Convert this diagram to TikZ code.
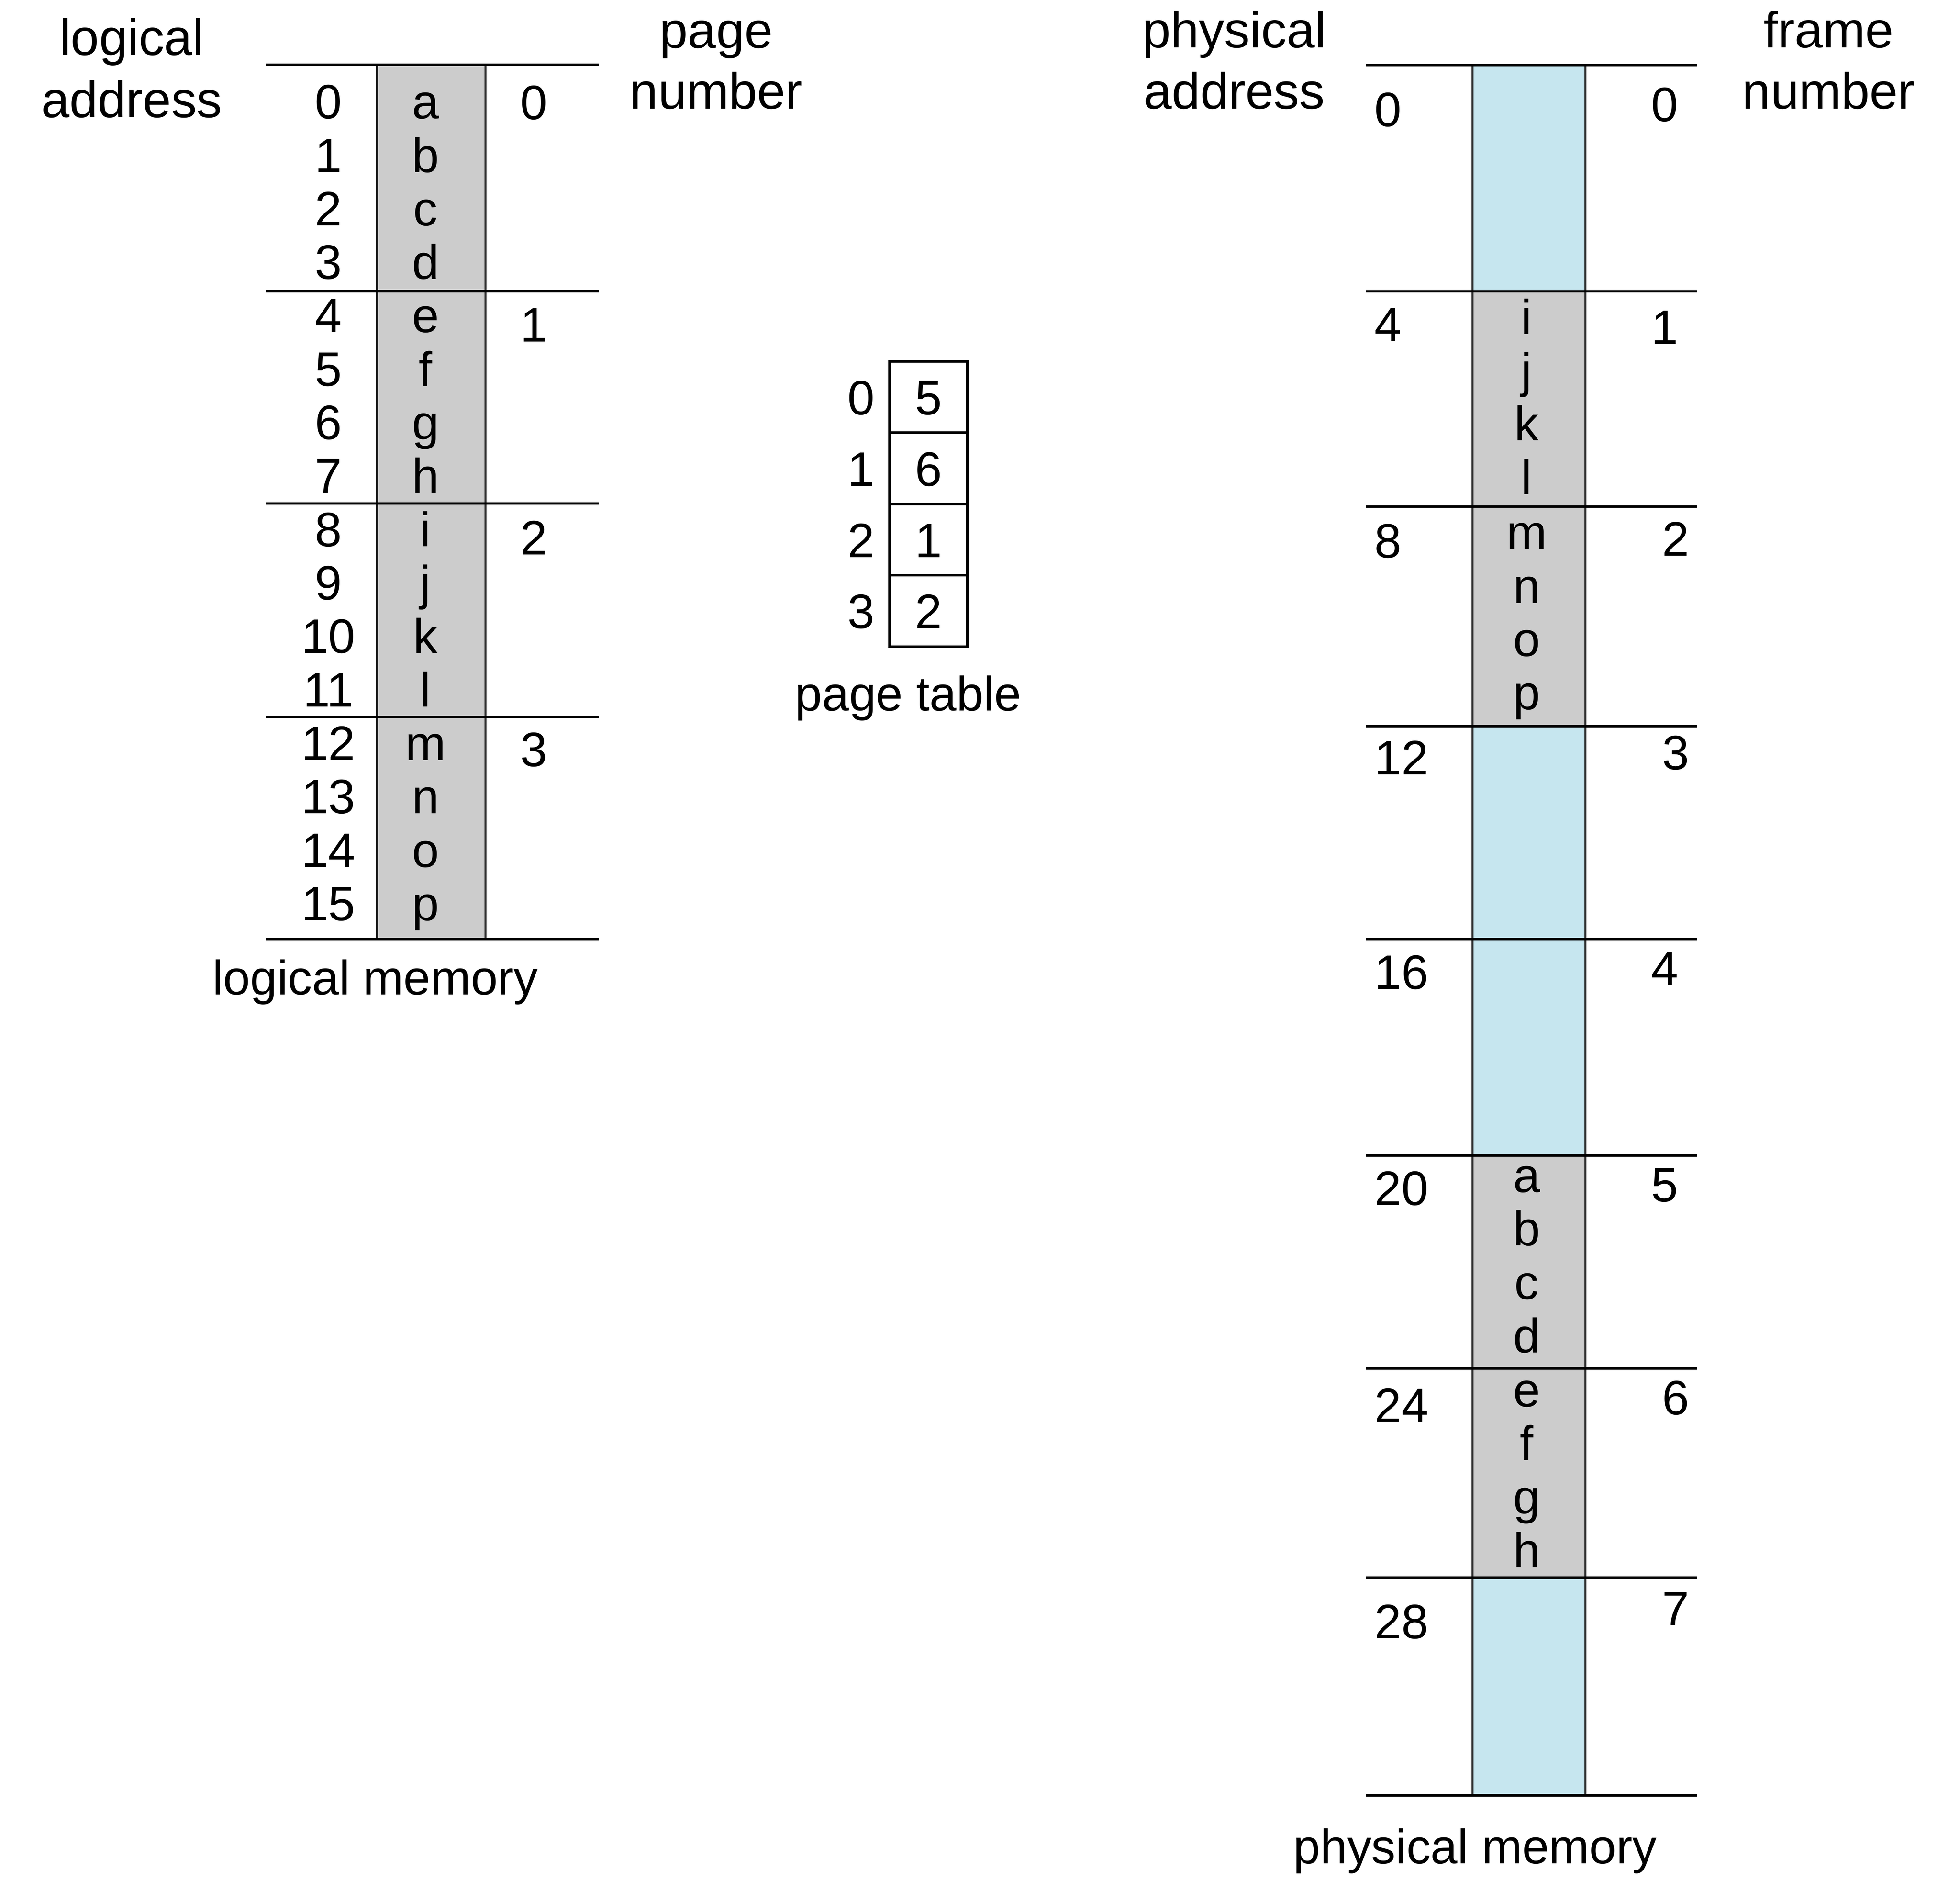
\documentclass[tikz,border=0pt]{standalone}
\usepackage{fontspec}
\setmainfont{Liberation Sans}
\definecolor{pagegray}{RGB}{204,204,204}
\definecolor{frameblue}{RGB}{198,230,239}

\begin{document}
\begin{tikzpicture}[x=.3cm, y=-.3cm, font=\fontsize{11.7}{14}\selectfont,
        txt/.style={inner sep=0pt, anchor=base},
        head/.style={txt, font=\fontsize{12.3}{14.6}\selectfont},
        rule/.style={line width=.6pt},
        col/.style={line width=.5pt, draw=black!85}]
        \useasboundingbox (0,0) rectangle (55.5,53.55);
        % logical memory: 4 pages of 4 bytes
        \fill[pagegray] (10.67,1.83) rectangle (13.75,26.59);
        \draw[col] (10.67,1.83) -- (10.67,26.59) (13.75,1.83) -- (13.75,26.59);
        \foreach \y in {1.83,8.24,14.25,20.29,26.59}
                \draw[rule] (7.53,\y) -- (16.96,\y);
        \foreach \c [count=\i from 0] in {a,b,c,d,e,f,g,h,i,j,k,l,m,n,o,p} {
                \node[txt] (la\i) at (9.30,3.36+1.513*\i) {\i};
                \node[txt] (lc\i) at (12.05,3.36+1.513*\i) {\c};
        }
        \foreach \p/\y in {0/3.38,1/9.67,2/15.70,3/21.69}
                \node[txt] (pn\p) at (15.12,\y) {\p};
        \node[head] (lahead1) at (3.73,1.56) {logical};
        \node[head] (lahead2) at (3.73,3.32) {address};
        \node[head] (pnhead1) at (20.28,1.36) {page};
        \node[head] (pnhead2) at (20.28,3.08) {number};
        \node[txt] (lmem) at (10.63,28.15) {logical memory};

        % page table
        \draw[rule] (25.19,10.23) rectangle (27.39,18.30);
        \foreach \y in {12.25,14.27,16.28}
                \draw[rule] (25.19,\y) -- (27.39,\y);
        \foreach \f [count=\i from 0] in {5,6,1,2} {
                \node[txt] (pi\i) at (24.38,11.74+2.017*\i) {\i};
                \node[txt] (pf\i) at (26.29,11.74+2.017*\i) {\f};
        }
        \node[txt] (ptab) at (25.72,20.12) {page table};

        % physical memory: 8 frames
        \foreach \top/\bot/\fc in {1.84/8.25/frameblue, 8.25/14.34/pagegray,
                14.34/20.56/pagegray, 20.56/26.59/frameblue, 26.59/32.71/frameblue,
                32.71/38.74/pagegray, 38.74/44.66/pagegray, 44.66/50.82/frameblue}
                \fill[\fc] (41.70,\top) rectangle (44.89,\bot);
        \draw[col] (41.70,1.84) -- (41.70,50.82) (44.89,1.84) -- (44.89,50.82);
        \foreach \y in {1.84,8.25,14.34,20.56,26.59,32.71,38.74,44.66,50.82}
                \draw[rule] (38.67,\y) -- (48.05,\y);
        \foreach \grp/\y in {{i,j,k,l}/9.45, {m,n,o,p}/15.55, {a,b,c,d}/33.75, {e,f,g,h}/39.82}
                \foreach \c [count=\k from 0] in \grp
                        \node[txt] (fc\c) at (43.23,\y+1.513*\k) {\c};
        \foreach \a/\y in {0/3.58,4/9.66,8/15.79,12/21.93,16/28.00,20/34.12,24/40.26,28/46.38}
                \node[txt, anchor=base west] (pa\a) at (38.90,\y) {\a};
        \foreach \f/\x/\y in {0/47.14/3.43, 1/47.14/9.74, 2/47.45/15.73, 3/47.45/21.78,
                4/47.14/27.89, 5/47.14/34.01, 6/47.45/40.04, 7/47.45/46.01}
                \node[txt] (fn\f) at (\x,\y) {\f};
        \node[head] (pahead1) at (34.95,1.35) {physical};
        \node[head] (pahead2) at (34.95,3.08) {address};
        \node[head] (fnhead1) at (51.78,1.35) {frame};
        \node[head] (fnhead2) at (51.78,3.08) {number};
        \node[txt] (pmem) at (41.77,52.75) {physical memory};
\end{tikzpicture}
\end{document}
